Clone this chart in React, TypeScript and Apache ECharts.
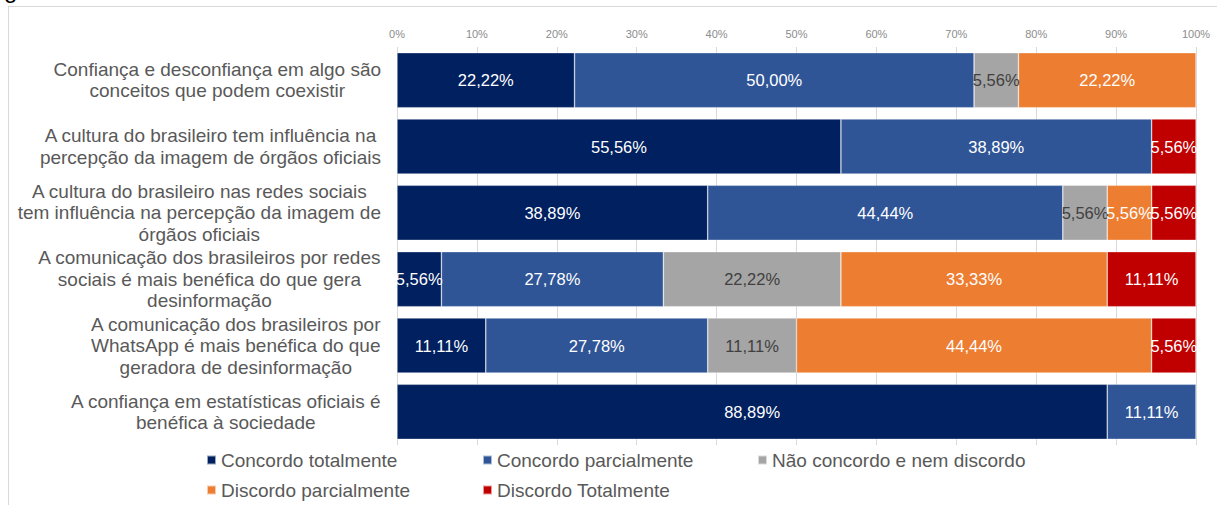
import React, { useEffect, useRef } from "react";
import * as echarts from "echarts";

const categories = [
  "Confiança e desconfiança em algo são\nconceitos que podem coexistir",
  "A cultura do brasileiro tem influência na\npercepção da imagem de órgãos oficiais",
  "A cultura do brasileiro nas redes sociais\ntem influência na percepção da imagem de\nórgãos oficiais",
  "A comunicação dos brasileiros por redes\nsociais é mais benéfica do que gera\ndesinformação",
  "A comunicação dos brasileiros por\nWhatsApp é mais benéfica do que\ngeradora de desinformação",
  "A confiança em estatísticas oficiais é\nbenéfica à sociedade",
];

const seriesNames = [
  "Concordo totalmente",
  "Concordo parcialmente",
  "Não concordo e nem discordo",
  "Discordo parcialmente",
  "Discordo Totalmente",
];

const concordoTotalmente = [22.22, 55.56, 38.89, 5.56, 11.11, 88.89];
const concordoParcialmente = [50.0, 38.89, 44.44, 27.78, 27.78, 11.11];
const naoConcordoNemDiscordo = [5.56, 0, 5.56, 22.22, 11.11, 0];
const discordoParcialmente = [22.22, 0, 5.56, 33.33, 44.44, 0];
const discordoTotalmente = [0, 5.56, 5.56, 11.11, 5.56, 0];

const xTicks = [0, 10, 20, 30, 40, 50, 60, 70, 80, 90, 100];

const colors = ["#002060", "#2F5597", "#A5A5A5", "#ED7D31", "#C00000"];
const labelColors = ["#ffffff", "#ffffff", "#404040", "#ffffff", "#ffffff"];

const FONT = "Arial, 'Liberation Sans', sans-serif";

export default function App() {
  const ref = useRef<HTMLDivElement>(null);
  useEffect(() => {
    if (!ref.current) return;
    const chart = echarts.init(ref.current, null, { renderer: "svg" });
    const values = [
      concordoTotalmente,
      concordoParcialmente,
      naoConcordoNemDiscordo,
      discordoParcialmente,
      discordoTotalmente,
    ];
    const series = values.map((arr, i) => ({
      name: seriesNames[i],
      type: "bar",
      stack: "total",
      barCategoryGap: "17%",
      data: arr.map((v) => (v === 0 ? null : v)),
      itemStyle: { color: colors[i], borderColor: "rgba(255,255,255,0.6)", borderWidth: 0.6 },
      label: {
        show: true,
        position: "inside",
        color: labelColors[i],
        fontSize: 16.5,
        fontFamily: FONT,
        formatter: (p: any) =>
          p.value == null || p.value === 0 ? "" : Number(p.value).toFixed(2).replace(".", ",") + "%",
      },
      emphasis: { disabled: true },
    }));
    const legendText = { fontSize: 19, color: "#595959", fontFamily: FONT, lineHeight: 20 };
    const mkLegend = (left: number, items: string[]) => ({
      orient: "vertical",
      left,
      top: 450,
      padding: 0,
      itemGap: 10,
      itemWidth: 9,
      itemHeight: 9,
      icon: "rect",
      selectedMode: false,
      textStyle: legendText,
      data: items,
    });
    chart.setOption({
      animation: false,
      textStyle: { fontFamily: FONT },
      grid: { left: 397, right: 21, top: 47, bottom: 60, containLabel: false },
      xAxis: {
        type: "value",
        position: "top",
        min: 0,
        max: 100,
        interval: 10,
        axisLine: { show: false },
        axisTick: { show: false },
        axisLabel: {
          fontSize: 11,
          color: "#8c8c8c",
          margin: 8,
          fontFamily: FONT,
          formatter: (v: number) => (xTicks.includes(v) ? v + "%" : ""),
        },
        splitLine: { show: true, lineStyle: { color: "#d9d9d9", width: 1 } },
      },
      yAxis: {
        type: "category",
        inverse: true,
        data: categories,
        axisLine: { show: false },
        axisTick: { show: false },
        axisLabel: {
          margin: 16,
          formatter: (v: string) =>
            v
              .split("\n")
              .map((l) => "{c|" + l + "}")
              .join("\n"),
          rich: {
            c: { align: "center", fontSize: 19, lineHeight: 21.5, color: "#595959", fontFamily: FONT },
          },
        },
      },
      legend: [
        mkLegend(206, [seriesNames[0], seriesNames[3]]),
        mkLegend(482, [seriesNames[1], seriesNames[4]]),
        mkLegend(757, [seriesNames[2]]),
      ],
      graphic: [
        {
          type: "line",
          shape: { x1: 8, y1: 6.5, x2: 1217, y2: 6.5 },
          style: { stroke: "#d9d9d9", lineWidth: 1 },
          silent: true,
        },
        {
          type: "line",
          shape: { x1: 8.5, y1: 6, x2: 8.5, y2: 505 },
          style: { stroke: "#d9d9d9", lineWidth: 1 },
          silent: true,
        },
        {
          type: "text",
          left: 4,
          top: -23,
          style: { text: "gura", fontSize: 24, fill: "#000000", fontFamily: FONT },
          silent: true,
        },
      ],
      series,
    });
    return () => chart.dispose();
  }, []);
  return (
    <div
      ref={ref}
      style={{ position: "fixed", left: 0, top: 0, width: 1217, height: 505, background: "#fff" }}
    />
  );
}
